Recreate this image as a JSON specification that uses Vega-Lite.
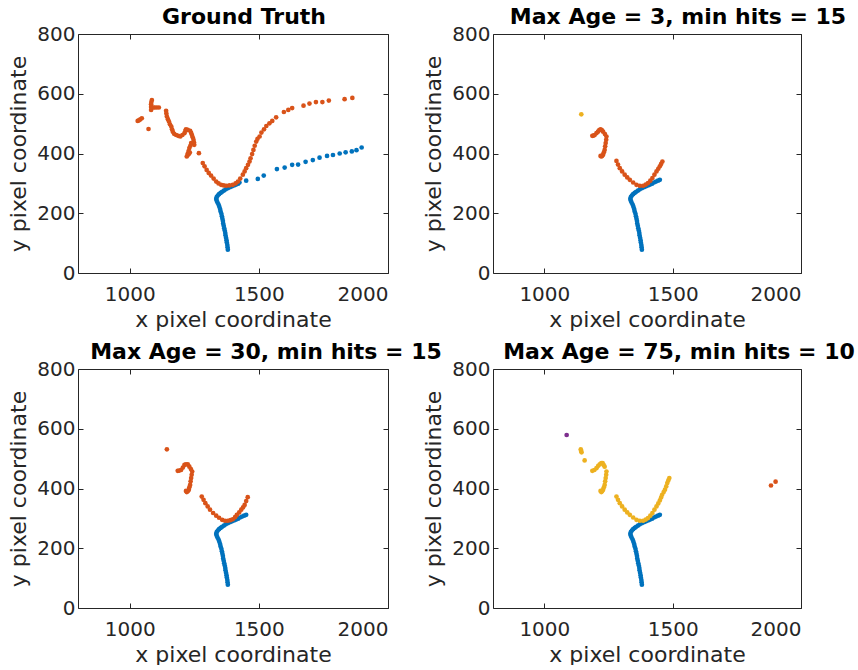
{
  "$schema": "https://vega.github.io/schema/vega-lite/v6.json",
  "background": "white",
  "padding": {"left": 7, "top": 6, "right": 0, "bottom": 0},
  "config": {
    "font": "DejaVu Sans",
    "view": {"stroke": null},
    "axis": {"grid": false, "domainColor": "#262626", "domainWidth": 1, "tickColor": "#262626", "tickSize": -5, "tickWidth": 1, "format": "d",
             "labelFont": "DejaVu Sans", "labelFontSize": 20, "labelColor": "#262626", "labelPadding": 8,
             "titleFont": "DejaVu Sans", "titleFontSize": 22, "titleFontWeight": "normal", "titleColor": "#262626"},
    "axisBottom": {"labelPadding": 16, "titlePadding": 5},
    "axisY": {"titlePadding": 6},
    "title": {"font": "DejaVu Sans", "fontSize": 22, "fontWeight": "bold", "color": "#000000", "offset": -5, "anchor": "middle"}
  },
  "data": {"values": [
    {"p":1,"t":1,"x":1380,"y":78},{"p":1,"t":1,"x":1379,"y":86},{"p":1,"t":1,"x":1378,"y":94},{"p":1,"t":1,"x":1376,"y":102},{"p":1,"t":1,"x":1375,"y":110},{"p":1,"t":1,"x":1373,"y":118},{"p":1,"t":1,"x":1371,"y":126},{"p":1,"t":1,"x":1370,"y":134},{"p":1,"t":1,"x":1368,"y":142},{"p":1,"t":1,"x":1366,"y":150},{"p":1,"t":1,"x":1364,"y":158},{"p":1,"t":1,"x":1362,"y":166},{"p":1,"t":1,"x":1361,"y":174},{"p":1,"t":1,"x":1359,"y":182},{"p":1,"t":1,"x":1357,"y":190},{"p":1,"t":1,"x":1355,"y":198},{"p":1,"t":1,"x":1352,"y":206},{"p":1,"t":1,"x":1350,"y":214},{"p":1,"t":1,"x":1347,"y":222},{"p":1,"t":1,"x":1344,"y":229},{"p":1,"t":1,"x":1340,"y":236},{"p":1,"t":1,"x":1337,"y":242},{"p":1,"t":1,"x":1335,"y":248},{"p":1,"t":1,"x":1337,"y":254},{"p":1,"t":1,"x":1341,"y":259},{"p":1,"t":1,"x":1346,"y":264},{"p":1,"t":1,"x":1352,"y":268},{"p":1,"t":1,"x":1358,"y":272},{"p":1,"t":1,"x":1365,"y":276},{"p":1,"t":1,"x":1372,"y":280},{"p":1,"t":1,"x":1380,"y":284},{"p":1,"t":1,"x":1388,"y":287},{"p":1,"t":1,"x":1396,"y":290},{"p":1,"t":1,"x":1404,"y":293},{"p":1,"t":1,"x":1412,"y":296},{"p":1,"t":1,"x":1420,"y":299},
    {"p":1,"t":1,"x":1425,"y":303},{"p":1,"t":1,"x":1451,"y":309},{"p":1,"t":1,"x":1496,"y":315},{"p":1,"t":1,"x":1519,"y":326},{"p":1,"t":1,"x":1570,"y":348},{"p":1,"t":1,"x":1600,"y":353},{"p":1,"t":1,"x":1629,"y":362},{"p":1,"t":1,"x":1652,"y":363},{"p":1,"t":1,"x":1681,"y":372},{"p":1,"t":1,"x":1709,"y":378},{"p":1,"t":1,"x":1735,"y":386},{"p":1,"t":1,"x":1764,"y":392},{"p":1,"t":1,"x":1787,"y":395},{"p":1,"t":1,"x":1813,"y":400},{"p":1,"t":1,"x":1836,"y":404},{"p":1,"t":1,"x":1860,"y":407},{"p":1,"t":1,"x":1878,"y":411},{"p":1,"t":1,"x":1898,"y":420},
    {"p":1,"t":2,"x":1031,"y":509},{"p":1,"t":2,"x":1036,"y":511},{"p":1,"t":2,"x":1041,"y":514},{"p":1,"t":2,"x":1047,"y":518},{"p":1,"t":2,"x":1073,"y":482},{"p":1,"t":2,"x":1086,"y":579},{"p":1,"t":2,"x":1084,"y":572},{"p":1,"t":2,"x":1083,"y":565},{"p":1,"t":2,"x":1083,"y":556},{"p":1,"t":2,"x":1083,"y":546},{"p":1,"t":2,"x":1090,"y":554},{"p":1,"t":2,"x":1096,"y":554},{"p":1,"t":2,"x":1104,"y":554},{"p":1,"t":2,"x":1113,"y":554},{"p":1,"t":2,"x":1141,"y":543},{"p":1,"t":2,"x":1142,"y":534},{"p":1,"t":2,"x":1144,"y":524},{"p":1,"t":2,"x":1148,"y":515},{"p":1,"t":2,"x":1152,"y":507},{"p":1,"t":2,"x":1156,"y":498},{"p":1,"t":2,"x":1161,"y":490},{"p":1,"t":2,"x":1164,"y":481},{"p":1,"t":2,"x":1167,"y":473},{"p":1,"t":2,"x":1172,"y":466},{"p":1,"t":2,"x":1180,"y":462},{"p":1,"t":2,"x":1188,"y":459},{"p":1,"t":2,"x":1196,"y":457},{"p":1,"t":2,"x":1204,"y":462},{"p":1,"t":2,"x":1212,"y":468},{"p":1,"t":2,"x":1216,"y":476},{"p":1,"t":2,"x":1218,"y":481},{"p":1,"t":2,"x":1225,"y":479},{"p":1,"t":2,"x":1234,"y":476},{"p":1,"t":2,"x":1238,"y":469},{"p":1,"t":2,"x":1241,"y":462},{"p":1,"t":2,"x":1244,"y":454},{"p":1,"t":2,"x":1247,"y":446},{"p":1,"t":2,"x":1249,"y":437},{"p":1,"t":2,"x":1250,"y":429},{"p":1,"t":2,"x":1238,"y":435},{"p":1,"t":2,"x":1235,"y":426},{"p":1,"t":2,"x":1231,"y":418},{"p":1,"t":2,"x":1228,"y":408},{"p":1,"t":2,"x":1225,"y":400},{"p":1,"t":2,"x":1224,"y":394},{"p":1,"t":2,"x":1229,"y":398},{"p":1,"t":2,"x":1233,"y":403},{"p":1,"t":2,"x":1221,"y":390},{"p":1,"t":2,"x":1268,"y":401},{"p":1,"t":2,"x":1283,"y":368},{"p":1,"t":2,"x":1290,"y":357},{"p":1,"t":2,"x":1298,"y":345},{"p":1,"t":2,"x":1306,"y":335},{"p":1,"t":2,"x":1315,"y":326},{"p":1,"t":2,"x":1325,"y":316},{"p":1,"t":2,"x":1335,"y":306},{"p":1,"t":2,"x":1344,"y":300},{"p":1,"t":2,"x":1354,"y":295},{"p":1,"t":2,"x":1364,"y":293},{"p":1,"t":2,"x":1374,"y":292},{"p":1,"t":2,"x":1386,"y":293},{"p":1,"t":2,"x":1399,"y":295},{"p":1,"t":2,"x":1410,"y":300},{"p":1,"t":2,"x":1419,"y":306},{"p":1,"t":2,"x":1428,"y":316},{"p":1,"t":2,"x":1438,"y":329},{"p":1,"t":2,"x":1445,"y":340},{"p":1,"t":2,"x":1451,"y":351},{"p":1,"t":2,"x":1458,"y":362},{"p":1,"t":2,"x":1464,"y":373},{"p":1,"t":2,"x":1468,"y":384},{"p":1,"t":2,"x":1474,"y":398},{"p":1,"t":2,"x":1479,"y":412},{"p":1,"t":2,"x":1484,"y":426},{"p":1,"t":2,"x":1490,"y":440},{"p":1,"t":2,"x":1495,"y":449},{"p":1,"t":2,"x":1503,"y":457},{"p":1,"t":2,"x":1510,"y":470},{"p":1,"t":2,"x":1520,"y":481},{"p":1,"t":2,"x":1529,"y":492},{"p":1,"t":2,"x":1541,"y":501},{"p":1,"t":2,"x":1552,"y":509},{"p":1,"t":2,"x":1567,"y":521},{"p":1,"t":2,"x":1597,"y":539},{"p":1,"t":2,"x":1614,"y":546},{"p":1,"t":2,"x":1629,"y":552},{"p":1,"t":2,"x":1673,"y":560},{"p":1,"t":2,"x":1696,"y":567},{"p":1,"t":2,"x":1721,"y":572},{"p":1,"t":2,"x":1746,"y":572},{"p":1,"t":2,"x":1771,"y":577},{"p":1,"t":2,"x":1832,"y":582},{"p":1,"t":2,"x":1862,"y":586},

    {"p":2,"t":1,"x":1380,"y":78},{"p":2,"t":1,"x":1379,"y":86},{"p":2,"t":1,"x":1378,"y":94},{"p":2,"t":1,"x":1376,"y":102},{"p":2,"t":1,"x":1375,"y":110},{"p":2,"t":1,"x":1373,"y":118},{"p":2,"t":1,"x":1371,"y":126},{"p":2,"t":1,"x":1370,"y":134},{"p":2,"t":1,"x":1368,"y":142},{"p":2,"t":1,"x":1366,"y":150},{"p":2,"t":1,"x":1364,"y":158},{"p":2,"t":1,"x":1362,"y":166},{"p":2,"t":1,"x":1361,"y":174},{"p":2,"t":1,"x":1359,"y":182},{"p":2,"t":1,"x":1357,"y":190},{"p":2,"t":1,"x":1355,"y":198},{"p":2,"t":1,"x":1352,"y":206},{"p":2,"t":1,"x":1350,"y":214},{"p":2,"t":1,"x":1347,"y":222},{"p":2,"t":1,"x":1344,"y":229},{"p":2,"t":1,"x":1340,"y":236},{"p":2,"t":1,"x":1337,"y":242},{"p":2,"t":1,"x":1335,"y":248},{"p":2,"t":1,"x":1337,"y":254},{"p":2,"t":1,"x":1341,"y":259},{"p":2,"t":1,"x":1346,"y":264},{"p":2,"t":1,"x":1352,"y":268},{"p":2,"t":1,"x":1358,"y":272},{"p":2,"t":1,"x":1365,"y":276},{"p":2,"t":1,"x":1372,"y":280},{"p":2,"t":1,"x":1380,"y":284},{"p":2,"t":1,"x":1388,"y":287},{"p":2,"t":1,"x":1396,"y":290},{"p":2,"t":1,"x":1404,"y":293},{"p":2,"t":1,"x":1412,"y":296},{"p":2,"t":1,"x":1420,"y":299},{"p":2,"t":1,"x":1427,"y":303},{"p":2,"t":1,"x":1435,"y":306},{"p":2,"t":1,"x":1443,"y":309},{"p":2,"t":1,"x":1450,"y":312},
    {"p":2,"t":3,"x":1144,"y":531},
    {"p":2,"t":2,"x":1187,"y":459},{"p":2,"t":2,"x":1192,"y":460},{"p":2,"t":2,"x":1196,"y":462},{"p":2,"t":2,"x":1203,"y":468},{"p":2,"t":2,"x":1209,"y":473},{"p":2,"t":2,"x":1214,"y":478},{"p":2,"t":2,"x":1219,"y":481},{"p":2,"t":2,"x":1224,"y":478},{"p":2,"t":2,"x":1229,"y":473},{"p":2,"t":2,"x":1236,"y":465},{"p":2,"t":2,"x":1242,"y":457},{"p":2,"t":2,"x":1241,"y":446},{"p":2,"t":2,"x":1239,"y":435},{"p":2,"t":2,"x":1237,"y":424},{"p":2,"t":2,"x":1235,"y":412},{"p":2,"t":2,"x":1232,"y":404},{"p":2,"t":2,"x":1229,"y":396},{"p":2,"t":2,"x":1225,"y":392},{"p":2,"t":2,"x":1222,"y":390},{"p":2,"t":2,"x":1219,"y":392},{"p":2,"t":2,"x":1281,"y":375},{"p":2,"t":2,"x":1287,"y":363},{"p":2,"t":2,"x":1294,"y":351},{"p":2,"t":2,"x":1303,"y":340},{"p":2,"t":2,"x":1313,"y":329},{"p":2,"t":2,"x":1323,"y":320},{"p":2,"t":2,"x":1333,"y":312},{"p":2,"t":2,"x":1346,"y":303},{"p":2,"t":2,"x":1359,"y":295},{"p":2,"t":2,"x":1372,"y":292},{"p":2,"t":2,"x":1385,"y":292},{"p":2,"t":2,"x":1395,"y":296},{"p":2,"t":2,"x":1404,"y":301},{"p":2,"t":2,"x":1413,"y":309},{"p":2,"t":2,"x":1421,"y":318},{"p":2,"t":2,"x":1429,"y":329},{"p":2,"t":2,"x":1437,"y":340},{"p":2,"t":2,"x":1444,"y":349},{"p":2,"t":2,"x":1450,"y":357},{"p":2,"t":2,"x":1455,"y":365},{"p":2,"t":2,"x":1460,"y":373},

    {"p":3,"t":1,"x":1380,"y":78},{"p":3,"t":1,"x":1379,"y":86},{"p":3,"t":1,"x":1378,"y":94},{"p":3,"t":1,"x":1376,"y":102},{"p":3,"t":1,"x":1375,"y":110},{"p":3,"t":1,"x":1373,"y":118},{"p":3,"t":1,"x":1371,"y":126},{"p":3,"t":1,"x":1370,"y":134},{"p":3,"t":1,"x":1368,"y":142},{"p":3,"t":1,"x":1366,"y":150},{"p":3,"t":1,"x":1364,"y":158},{"p":3,"t":1,"x":1362,"y":166},{"p":3,"t":1,"x":1361,"y":174},{"p":3,"t":1,"x":1359,"y":182},{"p":3,"t":1,"x":1357,"y":190},{"p":3,"t":1,"x":1355,"y":198},{"p":3,"t":1,"x":1352,"y":206},{"p":3,"t":1,"x":1350,"y":214},{"p":3,"t":1,"x":1347,"y":222},{"p":3,"t":1,"x":1344,"y":229},{"p":3,"t":1,"x":1340,"y":236},{"p":3,"t":1,"x":1337,"y":242},{"p":3,"t":1,"x":1335,"y":248},{"p":3,"t":1,"x":1337,"y":254},{"p":3,"t":1,"x":1341,"y":259},{"p":3,"t":1,"x":1346,"y":264},{"p":3,"t":1,"x":1352,"y":268},{"p":3,"t":1,"x":1358,"y":272},{"p":3,"t":1,"x":1365,"y":276},{"p":3,"t":1,"x":1372,"y":280},{"p":3,"t":1,"x":1380,"y":284},{"p":3,"t":1,"x":1388,"y":287},{"p":3,"t":1,"x":1396,"y":290},{"p":3,"t":1,"x":1404,"y":293},{"p":3,"t":1,"x":1412,"y":296},{"p":3,"t":1,"x":1420,"y":299},{"p":3,"t":1,"x":1427,"y":303},{"p":3,"t":1,"x":1435,"y":306},{"p":3,"t":1,"x":1443,"y":309},{"p":3,"t":1,"x":1451,"y":312},
    {"p":3,"t":2,"x":1144,"y":531},
    {"p":3,"t":2,"x":1186,"y":459},{"p":3,"t":2,"x":1192,"y":460},{"p":3,"t":2,"x":1199,"y":462},{"p":3,"t":2,"x":1206,"y":470},{"p":3,"t":2,"x":1212,"y":479},{"p":3,"t":2,"x":1218,"y":481},{"p":3,"t":2,"x":1225,"y":481},{"p":3,"t":2,"x":1231,"y":473},{"p":3,"t":2,"x":1237,"y":465},{"p":3,"t":2,"x":1242,"y":457},{"p":3,"t":2,"x":1240,"y":446},{"p":3,"t":2,"x":1238,"y":435},{"p":3,"t":2,"x":1236,"y":424},{"p":3,"t":2,"x":1234,"y":412},{"p":3,"t":2,"x":1231,"y":404},{"p":3,"t":2,"x":1229,"y":396},{"p":3,"t":2,"x":1225,"y":391},{"p":3,"t":2,"x":1221,"y":388},{"p":3,"t":2,"x":1218,"y":392},
    {"p":3,"t":2,"x":1279,"y":373},{"p":3,"t":2,"x":1286,"y":362},{"p":3,"t":2,"x":1293,"y":351},{"p":3,"t":2,"x":1302,"y":340},{"p":3,"t":2,"x":1311,"y":329},{"p":3,"t":2,"x":1323,"y":318},{"p":3,"t":2,"x":1335,"y":309},{"p":3,"t":2,"x":1346,"y":302},{"p":3,"t":2,"x":1358,"y":295},{"p":3,"t":2,"x":1369,"y":292},{"p":3,"t":2,"x":1380,"y":292},{"p":3,"t":2,"x":1390,"y":294},{"p":3,"t":2,"x":1399,"y":297},{"p":3,"t":2,"x":1408,"y":304},{"p":3,"t":2,"x":1415,"y":312},{"p":3,"t":2,"x":1424,"y":320},{"p":3,"t":2,"x":1432,"y":329},{"p":3,"t":2,"x":1439,"y":337},{"p":3,"t":2,"x":1445,"y":345},{"p":3,"t":2,"x":1451,"y":358},{"p":3,"t":2,"x":1457,"y":371},

    {"p":4,"t":1,"x":1380,"y":78},{"p":4,"t":1,"x":1379,"y":86},{"p":4,"t":1,"x":1378,"y":94},{"p":4,"t":1,"x":1376,"y":102},{"p":4,"t":1,"x":1375,"y":110},{"p":4,"t":1,"x":1373,"y":118},{"p":4,"t":1,"x":1371,"y":126},{"p":4,"t":1,"x":1370,"y":134},{"p":4,"t":1,"x":1368,"y":142},{"p":4,"t":1,"x":1366,"y":150},{"p":4,"t":1,"x":1364,"y":158},{"p":4,"t":1,"x":1362,"y":166},{"p":4,"t":1,"x":1361,"y":174},{"p":4,"t":1,"x":1359,"y":182},{"p":4,"t":1,"x":1357,"y":190},{"p":4,"t":1,"x":1355,"y":198},{"p":4,"t":1,"x":1352,"y":206},{"p":4,"t":1,"x":1350,"y":214},{"p":4,"t":1,"x":1347,"y":222},{"p":4,"t":1,"x":1344,"y":229},{"p":4,"t":1,"x":1340,"y":236},{"p":4,"t":1,"x":1337,"y":242},{"p":4,"t":1,"x":1335,"y":248},{"p":4,"t":1,"x":1337,"y":254},{"p":4,"t":1,"x":1341,"y":259},{"p":4,"t":1,"x":1346,"y":264},{"p":4,"t":1,"x":1352,"y":268},{"p":4,"t":1,"x":1358,"y":272},{"p":4,"t":1,"x":1365,"y":276},{"p":4,"t":1,"x":1372,"y":280},{"p":4,"t":1,"x":1380,"y":284},{"p":4,"t":1,"x":1388,"y":287},{"p":4,"t":1,"x":1396,"y":290},{"p":4,"t":1,"x":1404,"y":293},{"p":4,"t":1,"x":1412,"y":296},{"p":4,"t":1,"x":1420,"y":299},{"p":4,"t":1,"x":1427,"y":303},{"p":4,"t":1,"x":1435,"y":306},{"p":4,"t":1,"x":1443,"y":309},{"p":4,"t":1,"x":1450,"y":312},
    {"p":4,"t":4,"x":1087,"y":579},
    {"p":4,"t":2,"x":1883,"y":410},{"p":4,"t":2,"x":1901,"y":423},
    {"p":4,"t":3,"x":1142,"y":531},{"p":4,"t":3,"x":1143,"y":526},{"p":4,"t":3,"x":1145,"y":521},{"p":4,"t":3,"x":1157,"y":494},
    {"p":4,"t":3,"x":1187,"y":459},{"p":4,"t":3,"x":1195,"y":462},{"p":4,"t":3,"x":1203,"y":468},{"p":4,"t":3,"x":1210,"y":476},{"p":4,"t":3,"x":1216,"y":481},{"p":4,"t":3,"x":1222,"y":485},{"p":4,"t":3,"x":1227,"y":485},{"p":4,"t":3,"x":1231,"y":479},{"p":4,"t":3,"x":1235,"y":473},{"p":4,"t":3,"x":1242,"y":457},{"p":4,"t":3,"x":1241,"y":446},{"p":4,"t":3,"x":1239,"y":435},{"p":4,"t":3,"x":1237,"y":424},{"p":4,"t":3,"x":1235,"y":412},{"p":4,"t":3,"x":1232,"y":404},{"p":4,"t":3,"x":1229,"y":396},{"p":4,"t":3,"x":1225,"y":391},{"p":4,"t":3,"x":1222,"y":388},{"p":4,"t":3,"x":1219,"y":392},
    {"p":4,"t":3,"x":1281,"y":373},{"p":4,"t":3,"x":1287,"y":362},{"p":4,"t":3,"x":1294,"y":351},{"p":4,"t":3,"x":1303,"y":340},{"p":4,"t":3,"x":1313,"y":329},{"p":4,"t":3,"x":1323,"y":320},{"p":4,"t":3,"x":1333,"y":312},{"p":4,"t":3,"x":1346,"y":303},{"p":4,"t":3,"x":1359,"y":295},{"p":4,"t":3,"x":1372,"y":292},{"p":4,"t":3,"x":1385,"y":292},{"p":4,"t":3,"x":1395,"y":296},{"p":4,"t":3,"x":1404,"y":301},{"p":4,"t":3,"x":1413,"y":309},{"p":4,"t":3,"x":1421,"y":318},{"p":4,"t":3,"x":1429,"y":329},{"p":4,"t":3,"x":1437,"y":340},{"p":4,"t":3,"x":1444,"y":350},{"p":4,"t":3,"x":1450,"y":360},{"p":4,"t":3,"x":1455,"y":370},{"p":4,"t":3,"x":1459,"y":379},{"p":4,"t":3,"x":1465,"y":388},{"p":4,"t":3,"x":1470,"y":396},{"p":4,"t":3,"x":1475,"y":407},{"p":4,"t":3,"x":1479,"y":418},{"p":4,"t":3,"x":1483,"y":427},{"p":4,"t":3,"x":1487,"y":435}
  ]},
  "columns": 2,
  "spacing": {"row": 96, "column": 105},
  "bounds": "flush",
  "concat": [
    {"width": 310, "height": 239, "title": {"text": "Ground Truth", "dx": 11},
     "transform": [{"filter": "datum.p == 1"}],
     "layer": [
       {"mark": {"type": "circle", "size": 22, "opacity": 1},
        "encoding": {
          "x": {"field": "x", "type": "quantitative", "scale": {"domain": [800, 2000], "nice": false, "zero": false}, "axis": {"orient": "bottom", "title": "x pixel coordinate", "values": [1000, 1500, 2000]}},
          "y": {"field": "y", "type": "quantitative", "scale": {"domain": [0, 800], "nice": false}, "axis": {"orient": "left", "title": "y pixel coordinate", "values": [0, 200, 400, 600, 800]}},
          "color": {"field": "t", "type": "nominal", "scale": {"domain": [1, 2, 3, 4], "range": ["#0072BD", "#D95319", "#EDB120", "#7E2F8E"]}, "legend": null}}},
       {"mark": {"type": "circle", "opacity": 0},
        "encoding": {
          "x": {"field": "x", "type": "quantitative", "axis": {"orient": "top", "title": null, "labels": false, "values": [1000, 1500, 2000]}},
          "y": {"field": "y", "type": "quantitative", "axis": {"orient": "right", "title": null, "labels": false, "values": [0, 200, 400, 600, 800]}}}}
     ],
     "resolve": {"axis": {"x": "independent", "y": "independent"}}},
    {"width": 308, "height": 239, "title": {"text": "Max Age = 3, min hits = 15", "dx": 31},
     "transform": [{"filter": "datum.p == 2"}],
     "layer": [
       {"mark": {"type": "circle", "size": 22, "opacity": 1},
        "encoding": {
          "x": {"field": "x", "type": "quantitative", "scale": {"domain": [800, 2000], "nice": false, "zero": false}, "axis": {"orient": "bottom", "title": "x pixel coordinate", "values": [1000, 1500, 2000]}},
          "y": {"field": "y", "type": "quantitative", "scale": {"domain": [0, 800], "nice": false}, "axis": {"orient": "left", "title": "y pixel coordinate", "values": [0, 200, 400, 600, 800]}},
          "color": {"field": "t", "type": "nominal", "scale": {"domain": [1, 2, 3, 4], "range": ["#0072BD", "#D95319", "#EDB120", "#7E2F8E"]}, "legend": null}}},
       {"mark": {"type": "circle", "opacity": 0},
        "encoding": {
          "x": {"field": "x", "type": "quantitative", "axis": {"orient": "top", "title": null, "labels": false, "values": [1000, 1500, 2000]}},
          "y": {"field": "y", "type": "quantitative", "axis": {"orient": "right", "title": null, "labels": false, "values": [0, 200, 400, 600, 800]}}}}
     ],
     "resolve": {"axis": {"x": "independent", "y": "independent"}}},
    {"width": 310, "height": 239, "title": {"text": "Max Age = 30, min hits = 15", "dx": 33},
     "transform": [{"filter": "datum.p == 3"}],
     "layer": [
       {"mark": {"type": "circle", "size": 22, "opacity": 1},
        "encoding": {
          "x": {"field": "x", "type": "quantitative", "scale": {"domain": [800, 2000], "nice": false, "zero": false}, "axis": {"orient": "bottom", "title": "x pixel coordinate", "values": [1000, 1500, 2000]}},
          "y": {"field": "y", "type": "quantitative", "scale": {"domain": [0, 800], "nice": false}, "axis": {"orient": "left", "title": "y pixel coordinate", "values": [0, 200, 400, 600, 800]}},
          "color": {"field": "t", "type": "nominal", "scale": {"domain": [1, 2, 3, 4], "range": ["#0072BD", "#D95319", "#EDB120", "#7E2F8E"]}, "legend": null}}},
       {"mark": {"type": "circle", "opacity": 0},
        "encoding": {
          "x": {"field": "x", "type": "quantitative", "axis": {"orient": "top", "title": null, "labels": false, "values": [1000, 1500, 2000]}},
          "y": {"field": "y", "type": "quantitative", "axis": {"orient": "right", "title": null, "labels": false, "values": [0, 200, 400, 600, 800]}}}}
     ],
     "resolve": {"axis": {"x": "independent", "y": "independent"}}},
    {"width": 308, "height": 239, "title": {"text": "Max Age = 75, min hits = 10", "dx": 32},
     "transform": [{"filter": "datum.p == 4"}],
     "layer": [
       {"mark": {"type": "circle", "size": 22, "opacity": 1},
        "encoding": {
          "x": {"field": "x", "type": "quantitative", "scale": {"domain": [800, 2000], "nice": false, "zero": false}, "axis": {"orient": "bottom", "title": "x pixel coordinate", "values": [1000, 1500, 2000]}},
          "y": {"field": "y", "type": "quantitative", "scale": {"domain": [0, 800], "nice": false}, "axis": {"orient": "left", "title": "y pixel coordinate", "values": [0, 200, 400, 600, 800]}},
          "color": {"field": "t", "type": "nominal", "scale": {"domain": [1, 2, 3, 4], "range": ["#0072BD", "#D95319", "#EDB120", "#7E2F8E"]}, "legend": null}}},
       {"mark": {"type": "circle", "opacity": 0},
        "encoding": {
          "x": {"field": "x", "type": "quantitative", "axis": {"orient": "top", "title": null, "labels": false, "values": [1000, 1500, 2000]}},
          "y": {"field": "y", "type": "quantitative", "axis": {"orient": "right", "title": null, "labels": false, "values": [0, 200, 400, 600, 800]}}}}
     ],
     "resolve": {"axis": {"x": "independent", "y": "independent"}}}
  ]
}
